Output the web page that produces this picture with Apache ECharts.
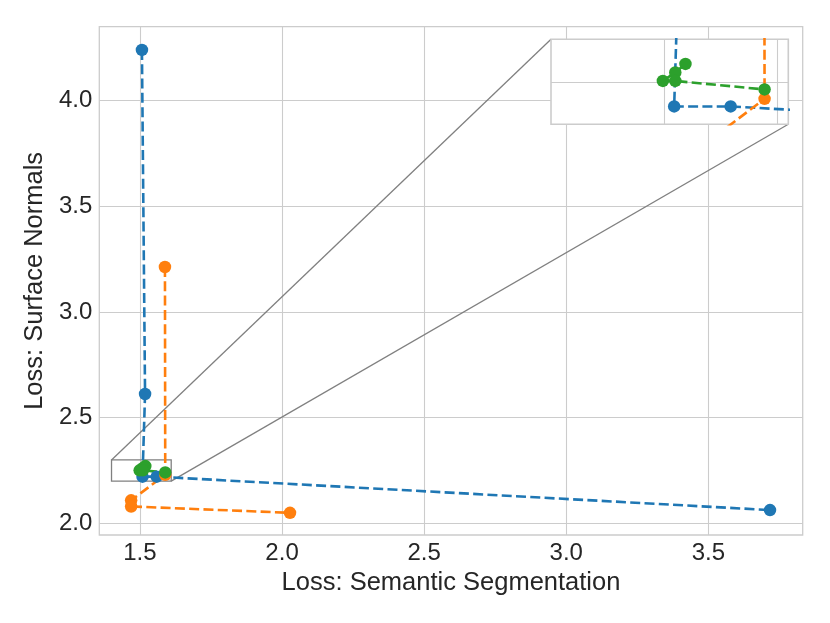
<!DOCTYPE html>
<html lang="en">
  <head>
    <meta charset="UTF-8" />
    <title>Loss trade-off</title>
    <script src="https://cdn.jsdelivr.net/npm/echarts@6/dist/echarts.min.js"></script>
  </head>
  <body style="margin: 0">
    <div id="main" style="width: 830px; height: 623px"></div>
    <script type="text/javascript">
      // values
      let blueX = [1.507, 1.518, 1.509, 1.559, 3.717]
      let blueY = [4.24, 2.612, 2.221, 2.221, 2.063]
      let orangeX = [1.588, 1.589, 1.469, 1.469, 2.028]
      let orangeY = [3.213, 2.23, 2.109, 2.08, 2.05]
      let greenX = [1.519, 1.51, 1.499, 1.51, 1.589]
      let greenY = [2.271, 2.261, 2.251, 2.251, 2.241]

      let xTicks = [1.5, 2.0, 2.5, 3.0, 3.5]
      let yTicks = [2.0, 2.5, 3.0, 3.5, 4.0]
      // zoomed region shown in the inset
      let insetX = [1.4, 1.61]
      let insetY = [2.2, 2.3]
      let insetXTicks = [1.5, 1.6]
      let insetYTicks = [2.25]

      let colors = ["#1f77b4", "#ff7f0e", "#2ca02c"]
      let font = "'Liberation Sans', Arial, sans-serif"
      let textColor = "#262626"

      function pairs(xs, ys) {
        return xs.map((x, i) => [x, ys[i]])
      }
      let lines = [pairs(blueX, blueY), pairs(orangeX, orangeY), pairs(greenX, greenY)]

      function makeSeries(axis) {
        return lines.map((data, i) => ({
          type: "line",
          xAxisIndex: axis,
          yAxisIndex: axis,
          data: data,
          clip: true,
          symbol: "circle",
          symbolSize: 12.5,
          z: axis ? 6 : 3,
          itemStyle: { color: colors[i] },
          lineStyle: { color: colors[i], width: 2.6, type: [10, 4.3] },
          emphasis: { disabled: true },
          animation: false,
        }))
      }

      let gridLine = { lineStyle: { color: "#cccccc", width: 1.1 } }

      let options = {
        animation: false,
        textStyle: { fontFamily: font },
        grid: [
          { left: 99.3, top: 26.7, width: 703.4, height: 508.3, show: true, borderColor: "#cccccc", borderWidth: 1.3, z: 0 },
          { left: 551, top: 39.3, width: 237.3, height: 85, show: true, backgroundColor: "#ffffff", borderColor: "#cccccc", borderWidth: 1.6, z: 5 },
        ],
        xAxis: [
          {
            type: "value",
            gridIndex: 0,
            min: 1.357,
            max: 3.832,
            name: "Loss: Semantic Segmentation",
            nameLocation: "middle",
            nameGap: 35,
            nameTextStyle: { fontSize: 25.5, color: textColor, fontFamily: font },
            axisLine: { show: false },
            axisTick: { show: false, customValues: xTicks },
            axisLabel: { customValues: xTicks, fontSize: 24, color: textColor, margin: 6, fontFamily: font, formatter: (v) => v.toFixed(1) },
            splitLine: gridLine,
          },
          {
            type: "value",
            gridIndex: 1,
            min: insetX[0],
            max: insetX[1],
            z: 5,
            axisLine: { show: false },
            axisTick: { show: false, customValues: insetXTicks },
            axisLabel: { show: false, customValues: insetXTicks },
            splitLine: gridLine,
          },
        ],
        yAxis: [
          {
            type: "value",
            gridIndex: 0,
            min: 1.945,
            max: 4.35,
            name: "Loss: Surface Normals",
            nameLocation: "middle",
            nameGap: 48,
            nameTextStyle: { fontSize: 25.5, color: textColor, fontFamily: font },
            axisLine: { show: false },
            axisTick: { show: false, customValues: yTicks },
            axisLabel: { customValues: yTicks, fontSize: 24, color: textColor, margin: 7, fontFamily: font, padding: [4, 0, 0, 0], formatter: (v) => v.toFixed(1) },
            splitLine: gridLine,
          },
          {
            type: "value",
            gridIndex: 1,
            min: insetY[0],
            max: insetY[1],
            z: 5,
            axisLine: { show: false },
            axisTick: { show: false, customValues: insetYTicks },
            axisLabel: { show: false, customValues: insetYTicks },
            splitLine: gridLine,
          },
        ],
        series: makeSeries(0).concat(makeSeries(1)),
      }

      let myChart = echarts.init(document.getElementById("main"))
      myChart.setOption(options)

      // box around the zoomed region and the two connector lines
      let a = myChart.convertToPixel({ xAxisIndex: 0, yAxisIndex: 0 }, [insetX[0], insetY[1]])
      let b = myChart.convertToPixel({ xAxisIndex: 0, yAxisIndex: 0 }, [insetX[1], insetY[0]])
      let c = myChart.convertToPixel({ xAxisIndex: 1, yAxisIndex: 1 }, [insetX[0], insetY[1]])
      let d = myChart.convertToPixel({ xAxisIndex: 1, yAxisIndex: 1 }, [insetX[1], insetY[0]])
      let gray = { stroke: "#808080", lineWidth: 1.3, fill: null }
      myChart.setOption({
        graphic: [
          { type: "rect", z: 2, shape: { x: a[0], y: a[1], width: b[0] - a[0], height: b[1] - a[1] }, style: gray },
          { type: "line", z: 2, shape: { x1: a[0], y1: a[1], x2: c[0], y2: c[1] }, style: gray },
          { type: "line", z: 2, shape: { x1: b[0], y1: b[1], x2: d[0], y2: d[1] }, style: gray },
        ],
      })
    </script>
  </body>
</html>
